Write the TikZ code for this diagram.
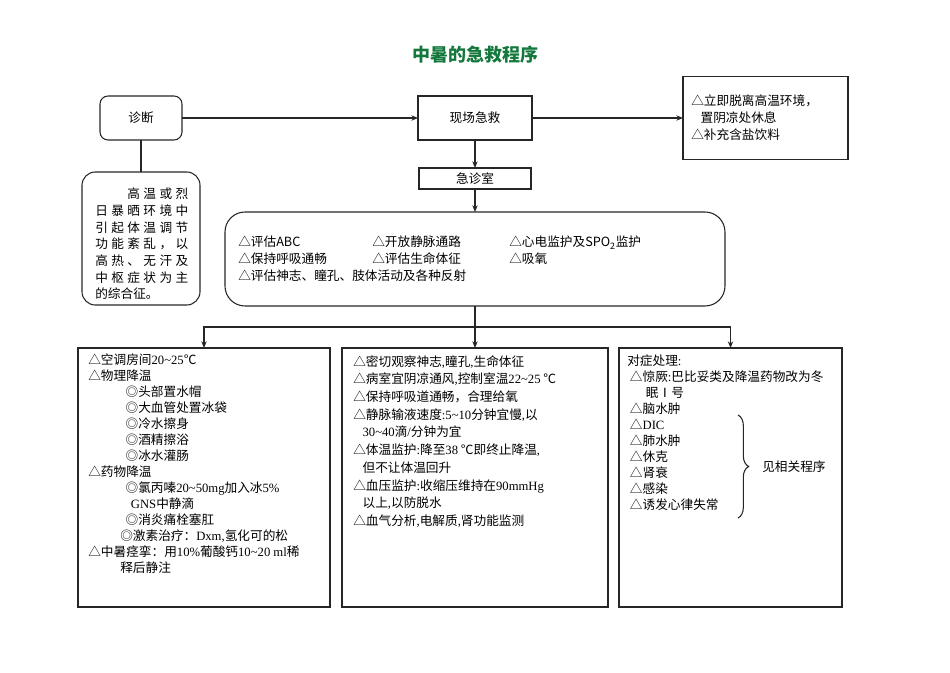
\documentclass[tikz,border=0pt]{standalone}
\usepackage{fontspec}
\setmainfont{Noto Sans CJK SC}
\newfontfamily\enfont{Liberation Serif}
\newcommand\en[1]{{\enfont #1}}
\usetikzlibrary{arrows.meta,decorations.pathreplacing}
\definecolor{titlegreen}{RGB}{20,120,60}

\begin{document}
\begin{tikzpicture}[x=0.75pt,y=-0.75pt,
  box/.style={draw=black!85,line width=0.8pt,inner sep=0pt,outer sep=0pt,font=\fontsize{9.5}{12}\selectfont},
  roundbox/.style={box,rounded corners=6pt},
  txt/.style={anchor=north west,inner sep=0pt,align=left,font=\fontsize{9.5}{12}\selectfont},
  line/.style={draw=black!85,line width=0.8pt},
  arr/.style={line,-{Stealth[length=5pt,width=4pt]}}]
  \useasboundingbox (0,0) rectangle (950,673);

  \node[font=\fontsize{13.5}{15}\selectfont\bfseries,text=titlegreen] (title) at (475,55) {中暑的急救程序};

  % top row
  \node[roundbox,minimum width=61.5pt,minimum height=33pt] (diag) at (141,118) {诊断};
  \node[box,minimum width=85.5pt,minimum height=33pt] (scene) at (475,118) {现场急救};
  \node[box,minimum width=123.75pt,minimum height=62.25pt] (advice) at (765.5,118) {};
  \node[txt,font=\fontsize{9.5}{12.75}\selectfont] (advicetxt) at (691,95)
    {△立即脱离高温环境，\\\hspace{7pt}置阴凉处休息\\△补充含盐饮料};

  \node[box,minimum width=84pt,minimum height=15.75pt] (er) at (475,178.5) {急诊室};

  % definition
  \node[roundbox,rounded corners=10pt,minimum width=88.5pt,minimum height=99.75pt] (desc) at (141,238.5) {};
  \node[txt,font=\fontsize{9.5}{12.5}\selectfont] (desctxt) at (95,188) {%
    \makebox[69.75pt]{\hphantom{日}\hfill\hphantom{日}\hfill 高\hfill 温\hfill 或\hfill 烈}\\
    \makebox[69.75pt]{日\hfill 暴\hfill 晒\hfill 环\hfill 境\hfill 中}\\
    \makebox[69.75pt]{引\hfill 起\hfill 体\hfill 温\hfill 调\hfill 节}\\
    \makebox[69.75pt]{功\hfill 能\hfill 紊\hfill 乱\hfill ，\hfill 以}\\
    \makebox[69.75pt]{高\hfill 热\hfill 、\hfill 无\hfill 汗\hfill 及}\\
    \makebox[69.75pt]{中\hfill 枢\hfill 症\hfill 状\hfill 为\hfill 主}\\
    的综合征。};

  % emergency room
  \node[roundbox,rounded corners=15pt,minimum width=375pt,minimum height=70.5pt] (eval) at (475,259) {};
  \node[txt,font=\fontsize{9.5}{12.75}\selectfont] (evaltxt) at (238,236) {%
    \makebox[100.5pt][l]{△评估ABC}\makebox[102.75pt][l]{△开放静脉通路}△心电监护及SPO\textsubscript{2}监护\\
    \makebox[100.5pt][l]{△保持呼吸通畅}\makebox[102.75pt][l]{△评估生命体征}△吸氧\\
    △评估神志、瞳孔、肢体活动及各种反射};

  % three columns
  \node[box,minimum width=189pt,minimum height=194.25pt] (c1) at (204,477.5) {};
  \node[box,minimum width=199.5pt,minimum height=194.25pt] (c2) at (475,477.5) {};
  \node[box,minimum width=167.25pt,minimum height=194.25pt] (c3) at (730.5,477.5) {};

  \node[txt,font=\fontsize{9.5}{12}\selectfont] (t1) at (88,354) {%
    △空调房间\en{20\textasciitilde25}℃\\
    △物理降温\\
    \hspace{28pt}◎头部置水帽\\
    \hspace{28pt}◎大血管处置冰袋\\
    \hspace{28pt}◎冷水擦身\\
    \hspace{28pt}◎酒精擦浴\\
    \hspace{28pt}◎冰水灌肠\\
    △药物降温\\
    \hspace{28pt}◎氯丙嗪\en{20\textasciitilde50mg}加入冰\en{5\%}\\
    \hspace{32pt}\en{GNS}中静滴\\
    \hspace{28pt}◎消炎痛栓塞肛\\
    \hspace{24pt}◎激素治疗：\en{Dxm,}氢化可的松\\
    △中暑痉挛：用\en{10\%}葡酸钙\en{10\textasciitilde20 ml}稀\\
    \hspace{24pt}释后静注};

  \node[txt,font=\fontsize{9.5}{13.3}\selectfont] (t2) at (353,355) {%
    △密切观察神志\en{,}瞳孔\en{,}生命体征\\
    △病室宜阴凉通风\en{,}控制室温\en{22\textasciitilde25} ℃\\
    △保持呼吸道通畅，合理给氧\\
    △静脉输液速度\en{:5\textasciitilde10}分钟宜慢\en{,}以\\
    \hspace{7pt}\en{30\textasciitilde40}滴\en{/}分钟为宜\\
    △体温监护\en{:}降至\en{38} ℃即终止降温\en{,}\\
    \hspace{7pt}但不让体温回升\\
    △血压监护\en{:}收缩压维持在\en{90mmHg}\\
    \hspace{7pt}以上\en{,}以防脱水\\
    △血气分析\en{,}电解质\en{,}肾功能监测};

  \node[txt,font=\fontsize{9.5}{12}\selectfont] (t3) at (627,355) {%
    对症处理\en{:}\\
    \hspace{2pt}△惊厥\en{:}巴比妥类及降温药物改为冬\\
    \hspace{14pt}眠Ⅰ号\\
    \hspace{2pt}△脑水肿\\
    \hspace{2pt}△\en{DIC}\\
    \hspace{2pt}△肺水肿\\
    \hspace{2pt}△休克\\
    \hspace{2pt}△肾衰\\
    \hspace{2pt}△感染\\
    \hspace{2pt}△诱发心律失常};
  \draw[line,decorate,decoration={brace,amplitude=8pt}] (738,415) -- (738,518);
  \node[txt,anchor=west] (see) at (762,467) {见相关程序};

  % connectors
  \draw[arr] (diag) -- (scene);
  \draw[arr] (scene) -- (advice);
  \draw[arr] (scene) -- (er);
  \draw[arr] (er) -- (eval);
  \draw[line] (diag) -- (desc);
  \coordinate (split) at (475,327);
  \draw[line] (eval.south) -- (split);
  \draw[arr] (split) -- (c2.north);
  \draw[arr] (split) -| (c1.north);
  \draw[arr] (split) -| (c3.north);
\end{tikzpicture}
\end{document}
